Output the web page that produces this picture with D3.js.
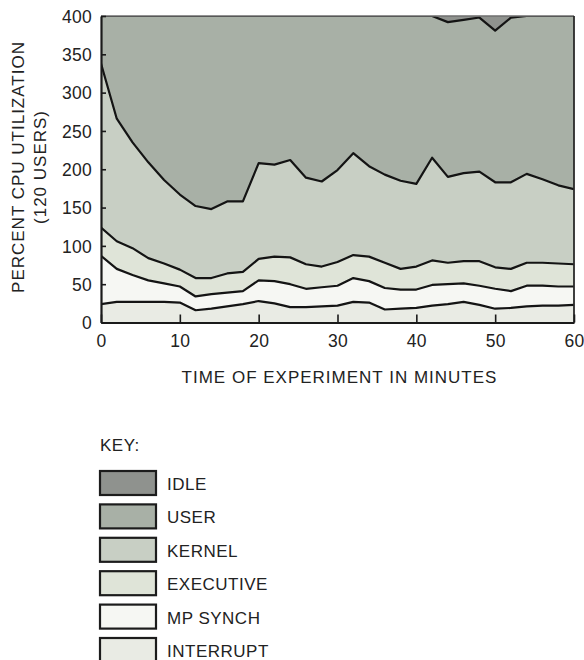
<!DOCTYPE html>
<html>
<head>
<meta charset="utf-8">
<script src="https://cdn.jsdelivr.net/npm/d3@7"></script>
<style>
  html, body { margin: 0; padding: 0; background: #fff; }
  svg { display: block; }
  text { font-family: "Liberation Sans", Arial, Helvetica, sans-serif; fill: #222; }
</style>
</head>
<body>
<svg id="chart" width="584" height="660"></svg>
<script>
// Sample times (minutes into the experiment)
const minutes = [0, 2, 4, 6, 8, 10, 12, 14, 16, 18, 20, 22, 24, 26, 28, 30,
                 32, 34, 36, 38, 40, 42, 44, 46, 48, 50, 52, 54, 56, 58, 60];

// Percent CPU per category (4 processors -> 400% total), bottom to top
const interrupt = [24, 27, 27, 27, 27, 26, 16, 18, 21, 24, 28, 25, 20, 20, 21, 22,
                   27, 26, 17, 18, 19, 22, 24, 27, 23, 18, 19, 21, 22, 22, 23];
const mpSynch   = [63, 43, 35, 28, 24, 21, 18, 19, 18, 17, 27, 29, 30, 24, 25, 26,
                   31, 28, 28, 25, 24, 27, 26, 24, 25, 26, 22, 27, 26, 25, 24];
const executive = [37, 36, 35, 29, 26, 22, 24, 21, 25, 25, 28, 32, 35, 32, 27, 31,
                   30, 32, 33, 27, 30, 32, 28, 29, 32, 28, 29, 30, 30, 30, 29];
const kernel    = [214, 160, 138, 125, 109, 98, 94, 90, 94, 92, 125, 120, 127, 113, 111, 120,
                   133, 118, 115, 115, 108, 134, 112, 115, 117, 111, 113, 116, 109, 102, 98];
const user      = [62, 134, 165, 191, 214, 233, 248, 252, 242, 242, 192, 194, 188, 211, 216, 201,
                   179, 196, 207, 215, 219, 185, 202, 200, 201, 198, 215, 206, 213, 221, 226];
const idle      = [0, 0, 0, 0, 0, 0, 0, 0, 0, 0, 0, 0, 0, 0, 0, 0,
                   0, 0, 0, 0, 0, 0, 8, 5, 2, 19, 2, 0, 0, 0, 0];

const yTicks = [0, 50, 100, 150, 200, 250, 300, 350, 400];
const xTicks = [0, 10, 20, 30, 40, 50, 60];

const keyNames  = ["interrupt", "mpSynch", "executive", "kernel", "user", "idle"];
const keyLabels = ["INTERRUPT", "MP SYNCH", "EXECUTIVE", "KERNEL", "USER", "IDLE"];
const fills = {
  interrupt: "#e9ebe4",
  mpSynch:   "#f6f7f3",
  executive: "#dfe4d8",
  kernel:    "#c8cfc4",
  user:      "#a8b0a6",
  idle:      "#8f928e"
};

const series = { interrupt, mpSynch, executive, kernel, user, idle };
const table = minutes.map((m, i) => {
  const row = { minute: m };
  keyNames.forEach(k => { row[k] = series[k][i]; });
  return row;
});

const svg = d3.select("#chart");
const plot = { left: 101, right: 574, top: 16, bottom: 322.5 };

const x = d3.scaleLinear().domain([0, 60]).range([plot.left, plot.right]);
const y = d3.scaleLinear().domain([0, 400]).range([plot.bottom, plot.top]);

const stacked = d3.stack().keys(keyNames)(table);

const clip = svg.append("clipPath").attr("id", "plotClip")
  .append("rect")
  .attr("x", plot.left).attr("y", plot.top)
  .attr("width", plot.right - plot.left).attr("height", plot.bottom - plot.top);

const g = svg.append("g").attr("clip-path", "url(#plotClip)");

const area = d3.area()
  .x(d => x(d.data.minute))
  .y0(d => y(d[0]))
  .y1(d => y(d[1]));

g.selectAll("path.layer")
  .data(stacked)
  .join("path")
  .attr("class", "layer")
  .attr("fill", d => fills[d.key])
  .attr("d", area);

const topLine = d3.line()
  .x(d => x(d.data.minute))
  .y(d => y(d[1]));

// Boundary lines between categories
g.selectAll("path.edge")
  .data(stacked.filter(s => s.key !== "idle"))
  .join("path")
  .attr("class", "edge")
  .attr("fill", "none")
  .attr("stroke", "#141414")
  .attr("stroke-width", 2.2)
  .attr("stroke-linejoin", "round")
  .attr("d", topLine);

// Frame: light top, dark right
svg.append("line")
  .attr("x1", plot.left).attr("x2", plot.right)
  .attr("y1", plot.top).attr("y2", plot.top)
  .attr("stroke", "#6e6e6e").attr("stroke-width", 1.5);
svg.append("line")
  .attr("x1", plot.right).attr("x2", plot.right)
  .attr("y1", plot.top).attr("y2", plot.bottom)
  .attr("stroke", "#2a2a2a").attr("stroke-width", 1.8);

// Axes with inward ticks
const yAxis = d3.axisLeft(y).tickValues(yTicks).tickSizeInner(-5).tickSizeOuter(0).tickPadding(9);
const xAxis = d3.axisBottom(x).tickValues(xTicks).tickSizeInner(-8).tickSizeOuter(0).tickPadding(12);

const gy = svg.append("g").attr("transform", `translate(${plot.left},0)`).call(yAxis);
const gx = svg.append("g").attr("transform", `translate(0,${plot.bottom})`).call(xAxis);

[gy, gx].forEach(ax => {
  ax.select(".domain").attr("stroke", "#1a1a1a").attr("stroke-width", 2.2);
  ax.selectAll(".tick line").attr("stroke", "#1a1a1a").attr("stroke-width", 1.6);
  ax.selectAll(".tick text")
    .attr("fill", "#222")
    .style("font-family", "'Liberation Sans', Arial, sans-serif")
    .style("font-size", "17.5px")
    .attr("letter-spacing", "0.3px");
});
gy.selectAll(".tick text").attr("dy", "0.36em");

// Axis titles
svg.append("text")
  .attr("x", (plot.left + plot.right) / 2 + 2)
  .attr("y", 383)
  .attr("text-anchor", "middle")
  .attr("letter-spacing", "1px")
  .style("font-size", "17px")
  .text("TIME OF EXPERIMENT IN MINUTES");

const yTitle = svg.append("g").attr("transform", "translate(0,167) rotate(-90)");
yTitle.append("text")
  .attr("x", 0).attr("y", 24)
  .attr("text-anchor", "middle")
  .attr("letter-spacing", "1px")
  .style("font-size", "17px")
  .text("PERCENT CPU UTILIZATION");
yTitle.append("text")
  .attr("x", 0).attr("y", 46)
  .attr("text-anchor", "middle")
  .attr("letter-spacing", "1px")
  .style("font-size", "17px")
  .text("(120 USERS)");

// Key
svg.append("text")
  .attr("x", 100).attr("y", 451)
  .attr("letter-spacing", "0.5px")
  .style("font-size", "17px")
  .text("KEY:");

const legendOrder = keyNames.slice().reverse();
const legendY = d3.scalePoint().domain(legendOrder).range([471, 638]);

const legend = svg.append("g").selectAll("g")
  .data(legendOrder)
  .join("g")
  .attr("transform", d => `translate(100,${legendY(d)})`);

legend.append("rect")
  .attr("width", 56).attr("height", 24)
  .attr("fill", d => fills[d])
  .attr("stroke", "#1c1c1c").attr("stroke-width", 2.2);

legend.append("text")
  .attr("x", 67).attr("y", 19)
  .attr("letter-spacing", "0.5px")
  .style("font-size", "17px")
  .text(d => keyLabels[keyNames.indexOf(d)]);
</script>
</body>
</html>
